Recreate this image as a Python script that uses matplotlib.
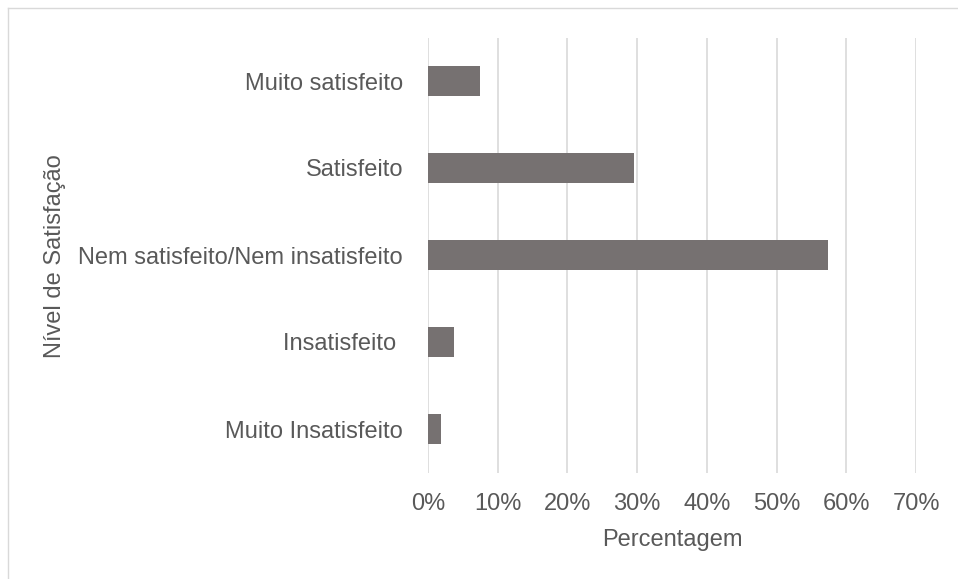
import matplotlib.pyplot as plt
from matplotlib.lines import Line2D
from matplotlib.ticker import PercentFormatter

plt.rcParams['font.family'] = ['Liberation Sans', 'DejaVu Sans']

categories = ['Muito Insatisfeito', 'Insatisfeito ', 'Nem satisfeito/Nem insatisfeito',
              'Satisfeito', 'Muito satisfeito']
percentages = [1.9, 3.7, 57.4, 29.6, 7.4]
x_ticks = [0, 10, 20, 30, 40, 50, 60, 70]

text_color = '#595959'
bar_color = '#767171'

fig = plt.figure(figsize=(9.58, 5.79), dpi=100)
ax = fig.add_axes([428 / 958, 106.5 / 579, 488 / 958, 435 / 579])

ax.barh(categories, percentages, height=0.345, color=bar_color, zorder=3)

ax.set_xlim(0, 70)
ax.set_ylim(-0.5, len(categories) - 0.5)
ax.set_xticks(x_ticks)
ax.xaxis.set_major_formatter(PercentFormatter(decimals=0))
ax.grid(axis='x', color='#d9d9d9', linewidth=1.2, zorder=0)

for s in ax.spines.values():
    s.set_visible(False)
ax.tick_params(length=0, labelsize=17, colors=text_color)
ax.tick_params(axis='y', pad=18)
ax.tick_params(axis='x', pad=14.5)

ax.set_xlabel('Percentagem', fontsize=17, color=text_color, labelpad=10)
fig.text(55 / 958, 1 - 256 / 579, 'Nível de Satisfação', rotation=90, fontsize=17,
         color=text_color, ha='center', va='center')

# chart area border (top and left edge visible)
fig.add_artist(Line2D([8 / 958, 1], [1 - 8 / 579, 1 - 8 / 579], transform=fig.transFigure,
                      color='#d9d9d9', linewidth=1))
fig.add_artist(Line2D([8 / 958, 8 / 958], [0, 1 - 8 / 579], transform=fig.transFigure,
                      color='#d9d9d9', linewidth=1))

fig.savefig('out.png', dpi=100)
